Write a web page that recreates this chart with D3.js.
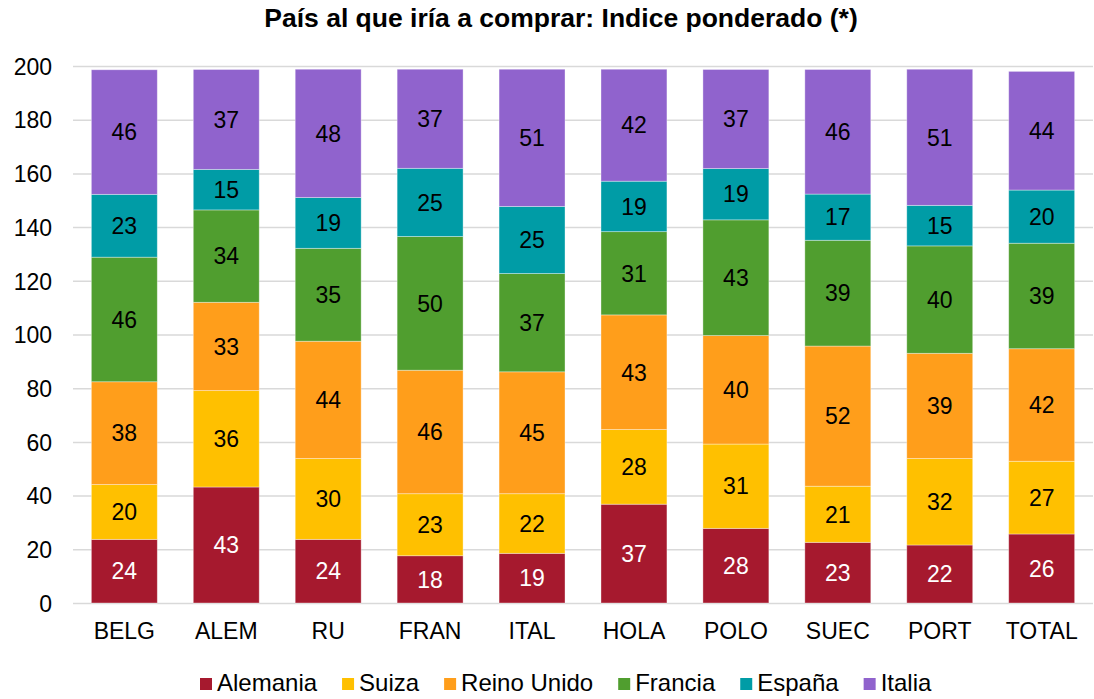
<!DOCTYPE html>
<html lang="es">
<head>
    <meta charset="UTF-8">
    <title>Indice ponderado</title>
    <script src="https://d3js.org/d3.v7.min.js"></script>
    <style>
        body { margin: 0; background: #fff; }
        svg text { font-family: 'Liberation Sans', Arial, sans-serif; }
        .grid line { stroke: #d9d9d9; stroke-width: 1.5; }
        .grid path { display: none; }
        .axis path, .axis line { display: none; }
        .axis text { font-size: 23px; fill: #000; }
        text.title { font-size: 26.5px; font-weight: bold; text-anchor: middle; }
        text.value { font-size: 23px; text-anchor: middle; }
        text.legend { font-size: 24px; }
    </style>
</head>
<body>
<svg width="1094" height="699"></svg>
<script>
    const categories = ['BELG', 'ALEM', 'RU', 'FRAN', 'ITAL', 'HOLA', 'POLO', 'SUEC', 'PORT', 'TOTAL'];
    const series = ['Alemania', 'Suiza', 'Reino Unido', 'Francia', 'España', 'Italia'];
    const colors = ['#a6192e', '#ffc000', '#ff9e1b', '#509e2f', '#009ca6', '#9063cd'];

    const alemania   = [23.7, 43.2, 23.7, 17.6, 18.5, 36.8, 27.8, 22.6, 21.6, 25.7];
    const suiza      = [20.4, 35.9, 30.1, 23.1, 22.2, 27.8, 31.4, 20.9, 32.2, 27.1];
    const reinoUnido = [38.3, 32.9, 43.7, 46.0, 45.4, 42.7, 40.4, 52.2, 39.2, 41.9];
    const francia    = [46.4, 34.4, 34.6, 49.8, 36.6, 31.0, 43.1, 39.4, 40.0, 39.3];
    const espana     = [23.4, 15.1, 18.9, 25.4, 25.0, 18.8, 19.1, 17.2, 15.1, 19.8];
    const italia     = [46.4, 37.2, 47.8, 36.9, 51.1, 41.7, 36.9, 46.4, 50.7, 44.2];

    const yTicks = [0, 20, 40, 60, 80, 100, 120, 140, 160, 180, 200];

    const values = [alemania, suiza, reinoUnido, francia, espana, italia];
    const table = categories.map((c, i) => {
        const row = {cat: c};
        series.forEach((s, j) => row[s] = values[j][i]);
        return row;
    });

    const svg = d3.select('svg');
    const plotLeft = 73, plotRight = 1093, plotTop = 66, plotBottom = 603;

    const x = d3.scaleBand().domain(categories).range([plotLeft, plotRight]).paddingInner(0.353).paddingOuter(0.18);
    const y = d3.scaleLinear().domain([0, 200]).range([plotBottom, plotTop]);

    svg.append('text').attr('class', 'title')
        .attr('x', 561).attr('y', 27)
        .text('País al que iría a comprar: Indice ponderado (*)');

    svg.append('g').attr('class', 'grid')
        .attr('transform', `translate(${plotLeft},0)`)
        .call(d3.axisLeft(y).tickValues(yTicks).tickSize(-(plotRight - plotLeft)).tickFormat(''));

    svg.append('g').attr('class', 'axis')
        .attr('transform', `translate(${plotLeft - 21},0)`)
        .call(d3.axisLeft(y).tickValues(yTicks).tickSize(0).tickPadding(0))
        .selectAll('text').attr('dy', '0.36em');

    svg.append('g').attr('class', 'axis')
        .attr('transform', `translate(0,${plotBottom + 36})`)
        .call(d3.axisBottom(x).tickSize(0).tickPadding(0))
        .selectAll('text').attr('dy', '0');

    const stacked = d3.stack().keys(series)(table);

    const layers = svg.append('g').selectAll('g').data(stacked).enter().append('g')
        .attr('fill', (d, i) => colors[i]);

    layers.selectAll('rect').data(d => d).enter().append('rect')
        .attr('x', d => x(d.data.cat))
        .attr('width', x.bandwidth())
        .attr('y', d => y(d[1]))
        .attr('height', d => y(d[0]) - y(d[1]))
        .attr('stroke', 'rgba(255,255,255,0.45)')
        .attr('stroke-width', 0.8);

    layers.selectAll('text').data(d => d).enter().append('text')
        .attr('class', 'value')
        .attr('x', d => x(d.data.cat) + x.bandwidth() / 2)
        .attr('y', d => (y(d[0]) + y(d[1])) / 2)
        .attr('dy', '0.36em')
        .attr('fill', function () { return d3.select(this.parentNode).datum().index === 0 ? '#fff' : '#000'; })
        .text(d => Math.round(d[1] - d[0]));

    // legend
    const legend = svg.append('g').attr('transform', 'translate(200,684)');
    let lx = 0;
    series.forEach((s, i) => {
        const g = legend.append('g').attr('transform', `translate(${lx},0)`);
        g.append('rect').attr('x', 0).attr('y', -6).attr('width', 12).attr('height', 12).attr('fill', colors[i]);
        const t = g.append('text').attr('class', 'legend').attr('x', 17).attr('y', 7).text(s);
        lx += 17 + t.node().getComputedTextLength() + 25;
    });
</script>
</body>
</html>
